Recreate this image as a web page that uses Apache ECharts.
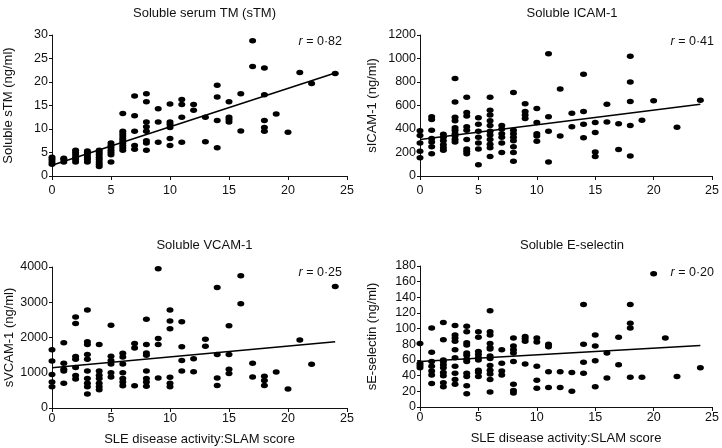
<!DOCTYPE html>
<html><head><meta charset="utf-8">
<script src="https://cdn.jsdelivr.net/npm/echarts@6/dist/echarts.min.js"></script>
<style>html,body{margin:0;padding:0;background:#fff}#c{width:722px;height:448px}</style>
</head><body><div id="c"></div>
<script>
// SLAM scores (x values) shared by all panels
const scores = [0,1,2,3,4,5,6,7,8,9,10,11,12,13,14,15,16,17,18,19,20,21,22,24];

// Soluble serum TM (ng/ml), grouped by SLAM score
const stmValues = [
  [2.5,3,3.5,4],[3,3.5,3.8],[3,3.5,4,4.5,5,5.5],[3,3.5,4,4.5,5,5.3],
  [2,2.5,3,3.5,4,4.5,5,5.5],[3,4.5,5,5.5,6,6.5,7],[5.5,6,6.5,7,7.5,8,8.5,9,9.5,13.3],
  [5.7,6.5,9.5,12.8,17],[5.5,7,7.5,9.5,10.5,11.5,15.8,17.5],[7.2,11.5,14.3],
  [6.5,8,10.3,11,11.5,15.3],[7.2,12.5,15.2,16.3],[14,15.2],[7.3,12.5],
  [6,11.8,16.8,19.3],[11.5,12,12.5,15.8],[9.6,17.5],[23.3,28.8],
  [9.5,10.3,11.8,17.3,23],[13.2],[9.3],[22],[19.7],[21.8]
];
// Soluble ICAM-1 (ng/ml)
const icamValues = [
  [155,210,280,345,385],[190,250,290,320,390,480,505],[220,240,265,300,330,355],
  [290,310,340,360,390,410,470,500,630,830],[190,210,230,310,390,420,510,540,670],
  [95,230,280,330,380,440,495],[165,240,270,310,350,380,430,470,520,560,670],
  [200,280,330,360,400,430],[125,200,250,300,330,360,390,710],[490,520,550,615],
  [295,340,360,455,575],[120,380,505,1040],[340,740],[420,535],[325,440,550,865],
  [165,205,370,455],[460,610],[225,445],[170,430,635,800,1020],[475],[640],[],[415],[645]
];
// Soluble VCAM-1 (ng/ml)
const vcamValues = [
  [600,740,950,1330,1650],[700,1050,1100,1270,1850],[820,920,1150,1380,1460,2400,2580],
  [400,600,700,840,1050,1380,1520,1800,1880,2780],[520,600,700,840,930,1050,1800],
  [880,1000,1250,1350,1470,2350],[630,740,840,1000,1250,1450,1550],[630,1700,1830],
  [620,740,840,1050,1500,1560,1800,2520],[850,1800,1970,3950],[600,700,870,2250,2470,2780],
  [1050,1350,1740,2450],[1030,1400],[1750,1950],[640,850,1520,3420],[980,1100,1520,2330],
  [2960,3750],[880,1270],[640,780,900],[1020],[540],[1930],[1240],[3450]
];
// Soluble E-selectin (ng/ml)
const eselValues = [
  [50,53,56,81],[30,41,46,52,58,70,101],[26,31,40,44,50,54,58,60,86,108],
  [29,35,43,52,63,73,84,88,92,104],[17,27,39,43,58,61,66,69,79,82,96,103],
  [39,44,47,60,63,67,71,89,96],[19,35,42,47,53,62,65,74,76,81,92,96,123],
  [41,46,56,73],[18,21,29,58,69,73,78,88],[55,84,87,90],[24,34,52,83,88],
  [25,45,77,80],[25,45],[20,44],[43,57,80,131],[26,59,78,92],[37,69],[54,89],
  [38,101,107,131],[38],[170],[88],[39],[50]
];

// Regression line end points
const fitX = [0, 24];
const stmFit = [2.3, 21.9];
const icamFit = [310, 611];
const vcamFit = [1140, 1880];
const eselFit = [58, 78.5];

const panelTitles = ['Soluble serum TM (sTM)', 'Soluble ICAM-1', 'Soluble VCAM-1', 'Soluble E-selectin'];
const yNames = ['Soluble sTM (ng/ml)', 'sICAM-1 (ng/ml)', 'sVCAM-1 (ng/ml)', 'sE-selectin (ng/ml)'];
const rLabels = ['0·82', '0·41', '0·25', '0·20'];
const yMax = [30, 1200, 4000, 180];
const yStep = [5, 200, 1000, 20];
const xName = 'SLE disease activity:SLAM score';

const FONT = '"Liberation Sans", Arial, sans-serif';
const grids = [
  {left: 52, top: 35, width: 295, height: 141},
  {left: 420, top: 35, width: 294, height: 141},
  {left: 52, top: 267, width: 295, height: 141},
  {left: 420, top: 266, width: 294, height: 141}
];
const allValues = [stmValues, icamValues, vcamValues, eselValues];
const fits = [stmFit, icamFit, vcamFit, eselFit];
const yGaps = [37, 41, 35, 41];

function flatten(vals) {
  const out = [];
  vals.forEach((arr, i) => arr.forEach(v => out.push([scores[i], v])));
  return out;
}

const titles = [], xAxes = [], yAxes = [], series = [];
for (let p = 0; p < 4; p++) {
  const g = grids[p];
  const cx = g.left + g.width / 2;
  titles.push({
    text: panelTitles[p], left: cx, textAlign: 'center', top: p < 2 ? 2 : 234,
    textStyle: {fontFamily: FONT, fontSize: 13, fontWeight: 'normal', color: '#111'}
  });
  titles.push({
    text: '{i|r} = ' + rLabels[p],
    right: p % 2 === 0 ? 375 : 3, top: p < 2 ? 30 : 261,
    textStyle: {fontFamily: FONT, fontSize: 12.5, fontWeight: 'normal', color: '#111',
      rich: {i: {fontFamily: FONT, fontStyle: 'italic', fontSize: 12.5, color: '#111'}}}
  });
  xAxes.push({
    gridIndex: p, type: 'value', min: 0, max: 25, interval: 5,
    offset: p < 2 ? 4 : 0,
    name: p >= 2 ? xName : '', nameLocation: 'middle', nameGap: 25,
    nameTextStyle: {fontFamily: FONT, fontSize: 13, color: '#111'},
    axisLine: {lineStyle: {color: '#111', width: 1}},
    axisTick: {show: true, inside: false, length: 4, lineStyle: {color: '#111'}},
    axisLabel: {fontFamily: FONT, fontSize: 12.5, color: '#111', margin: 4, formatter: v => String(v)},
    splitLine: {show: false}
  });
  yAxes.push({
    gridIndex: p, type: 'value', min: 0, max: yMax[p], interval: yStep[p],
    name: yNames[p], nameLocation: 'middle', nameGap: yGaps[p], nameRotate: 90,
    nameTextStyle: {fontFamily: FONT, fontSize: 13, color: '#111'},
    axisLine: {show: true, lineStyle: {color: '#111', width: 1}},
    axisTick: {show: true, inside: false, length: 3, lineStyle: {color: '#111'}},
    axisLabel: {fontFamily: FONT, fontSize: 12.5, color: '#111', margin: 4, formatter: v => String(v)},
    splitLine: {show: false}
  });
  series.push({
    type: 'scatter', xAxisIndex: p, yAxisIndex: p, data: flatten(allValues[p]),
    symbol: 'circle', symbolSize: [7, 5.5], itemStyle: {color: '#000', opacity: 1},
    silent: true, animation: false
  });
  series.push({
    type: 'line', xAxisIndex: p, yAxisIndex: p,
    data: fitX.map((x, i) => [x, fits[p][i]]),
    showSymbol: false, symbol: 'none', lineStyle: {color: '#000', width: 1.5},
    silent: true, animation: false
  });
}

const chart = echarts.init(document.getElementById('c'), null, {renderer: 'canvas'});
chart.setOption({
  backgroundColor: '#fff', animation: false,
  title: titles, grid: grids, xAxis: xAxes, yAxis: yAxes, series: series
});
</script></body></html>
